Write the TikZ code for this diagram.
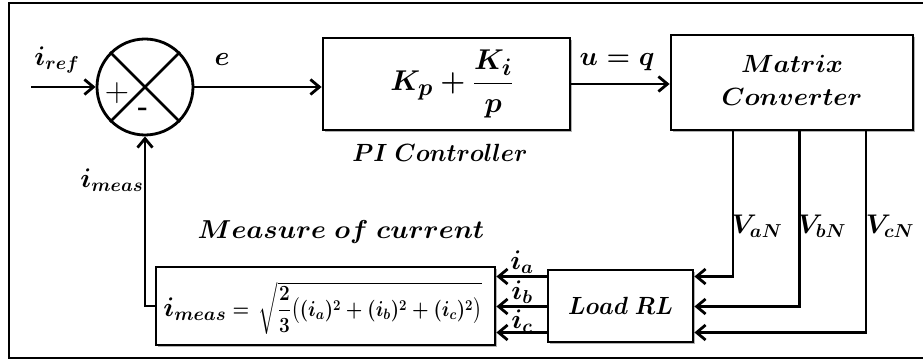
\documentclass[tikz,border=0pt]{standalone}
\usepackage{amsmath,bm,graphicx}
\usetikzlibrary{arrows.meta,shadows,calc}
\newcommand{\mysc}[1]{\scalebox{1.3}{#1}}
\newcommand{\mytx}[1]{\scalebox{1.2}{#1}}
\begin{document}
\begin{tikzpicture}[x=1pt,y=-1pt,line width=2.8pt,
  box/.style={draw,fill=white,line width=2.8pt,inner sep=0pt,
    drop shadow={shadow xshift=2pt,shadow yshift=-2pt,opacity=0.3,fill=black}},
  arr/.style={-{Straight Barb[length=9pt,width=15pt]}},
  lab/.style={inner sep=0pt,font=\fontsize{20.74}{25}\selectfont\boldmath},
  txt/.style={inner sep=0pt,font=\fontsize{20.74}{27}\selectfont\boldmath}]
\useasboundingbox (0,0) rectangle (923,363);
% outer frame (right side cut)
\draw (923,3) -- (9,3) -- (9,358) -- (923,358);
% summing junction
\node[circle,draw,fill=white,minimum size=96pt,inner sep=0pt] (sum) at (145,87) {};
\draw (sum.45) -- (sum.225);
\draw (sum.135) -- (sum.-45);
\node[inner sep=0pt,font=\fontsize{24.88}{28}\selectfont] (plus) at (117,93) {\scalebox{1.35}{$+$}};
\node[inner sep=0pt,font=\fontsize{24.88}{28}\selectfont\bfseries] (minus) at (143,112) {\scalebox{1.1}{-}};
% blocks
\node[box,minimum width=247pt,minimum height=92pt] (pi) at (446.5,84) {};
\node[lab,font=\fontsize{24.88}{30}\selectfont\boldmath] (pitxt) at (452,84) {\scalebox{1.15}{$K_p+\dfrac{K_i}{p}$}};
\node[box,minimum width=242pt,minimum height=95pt,font=\fontsize{20.74}{27}\selectfont\boldmath] (mc) at (792,82.5)
  {\scalebox{1.25}[1.2]{\begin{tabular}{@{}c@{}}$Matrix$\\$Converter$\end{tabular}}};
\node[box,minimum width=145pt,minimum height=72pt,font=\fontsize{20.74}{27}\selectfont\boldmath] (load) at (620.5,306) {\scalebox{1.12}[1.2]{$Load\ RL$}};
\node[box,minimum width=339pt,minimum height=78pt] (meas) at (325.5,306) {};
\node[inner sep=0pt,anchor=west] (formula) at (162,308)
  {{\fontsize{20.74}{25}\selectfont\boldmath\mysc{$i_{meas}$}}%
   {\fontsize{17.28}{20}\selectfont\boldmath\scalebox{1.1}[1.25]{${}={}\,\sqrt{\dfrac{2}{3}\big((i_a)^2+(i_b)^2+(i_c)^2\big)}$}}};
% coordinates
\coordinate (in) at (31,87);
\coordinate (va) at (733,276.5);
\coordinate (vb) at (799.5,306.5);
\coordinate (vc) at (866,332.5);
\coordinate (fb) at (145,306);
% connectors
\draw[arr] (in) -- (sum.west);
\draw[arr] (sum.east) -- (sum.east -| pi.west);
\draw[arr] (pi.east) -- (pi.east -| mc.west);
\draw[arr] (va |- mc.south) -- (va) -- (va -| load.east);
\draw[arr] (vb |- mc.south) -- (vb) -- (vb -| load.east);
\draw[arr] (vc |- mc.south) -- (vc) -- (vc -| load.east);
\draw[arr] (va -| load.west) -- (va -| meas.east);
\draw[arr] (vb -| load.west) -- (vb -| meas.east);
\draw[arr] (vc -| load.west) -- (vc -| meas.east);
\draw[arr] (meas.west |- fb) -- (fb) -- (sum.south);
% labels
\node[lab] (lref) at (57,60) {\mysc{$i_{ref}$}};
\node[lab] (le) at (222,60) {\mysc{$e$}};
\node[lab] (luq) at (617,62) {\mysc{$u=q$}};
\node[txt] (lpi) at (440,153) {\scalebox{1.15}[1.2]{$PI\ Controller$}};
\node[lab] (lmeas) at (112,180) {\mysc{$i_{meas}$}};
\node[txt] (lmc) at (341,232) {\scalebox{1.3}[1.25]{$Measure\ of\ current$}};
\node[lab] (lva) at (757,226) {\mysc{$V_{aN}$}};
\node[lab] (lvb) at (822,226) {\mysc{$V_{bN}$}};
\node[lab] (lvc) at (890,226) {\mysc{$V_{cN}$}};
\node[lab] (lia) at (522,262) {\mysc{$i_a$}};
\node[lab] (lib) at (522,292) {\mysc{$i_b$}};
\node[lab] (lic) at (522,321) {\mysc{$i_c$}};
\end{tikzpicture}
\end{document}
